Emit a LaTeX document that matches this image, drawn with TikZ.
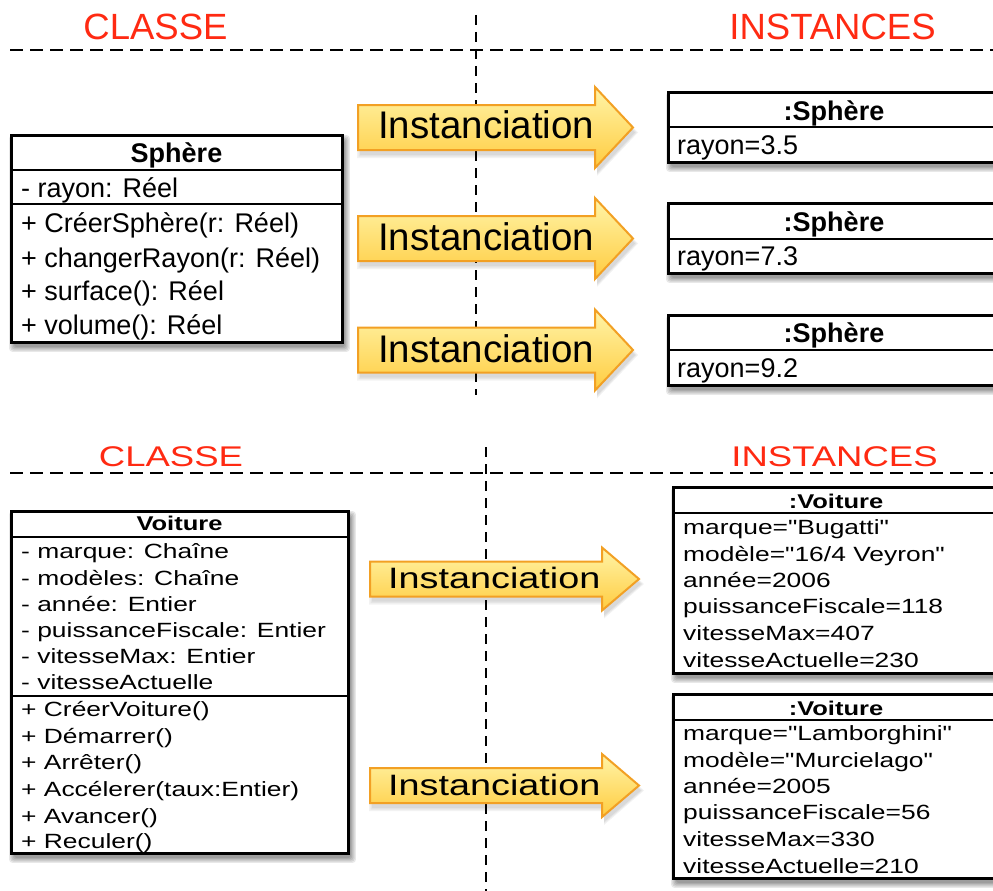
\documentclass[tikz,border=0pt]{standalone}
\usepackage{fontspec}
\setmainfont{Liberation Sans}[Ligatures=TeXOff]
\usepackage{graphicx}
\definecolor{headred}{HTML}{FF2A12}
\definecolor{arrtop}{HTML}{FFF4A8}
\definecolor{arrbot}{HTML}{FFCC40}
\definecolor{arrline}{HTML}{F2A024}
\newcommand\sq[1]{\scalebox{1}[0.78]{#1}}
\newcommand\softshadow[4]{%
  \foreach \s in {0,1.2,2.4,3.6,4.8}{\fill[black,opacity=0.09,rounded corners=3] (#1+3-\s,#2+5-\s) rectangle (#3+3+\s,#4+5+\s);}}
\newcommand\instarrow[6]{% x0, xb, xt, yc, hb, hh
  \foreach \s in {0,1.5,3}{\fill[black,opacity=0.05] (#1+2-\s,#4-#5+5-\s) -- (#2+2,#4-#5+5-\s) -- (#2+2,#4-#6+5-\s) -- (#3+2+\s,#4+5) -- (#2+2,#4+#6+5+\s) -- (#2+2,#4+#5+5+\s) -- (#1+2-\s,#4+#5+5+\s) -- cycle;}
  \draw[arrowbody] (#1,#4-#5) -- (#2,#4-#5) -- (#2,#4-#6) -- (#3,#4) -- (#2,#4+#6) -- (#2,#4+#5) -- (#1,#4+#5) -- cycle;}
\begin{document}
\begin{tikzpicture}[x=1pt,y=-1pt,
  hd/.style={text=headred, font=\fontsize{36.5}{40}\selectfont, inner sep=0, anchor=base},
  txt/.style={font=\fontsize{27}{30}\selectfont, inner sep=0, anchor=base west},
  ttl/.style={font=\bfseries\fontsize{27}{30}\selectfont, inner sep=0, anchor=base},
  btxt/.style={font=\fontsize{26.4}{30}\selectfont, inner sep=0, anchor=base west},
  bttl/.style={font=\bfseries\fontsize{25.5}{30}\selectfont, inner sep=0, anchor=base},
  itext/.style={font=\fontsize{38.5}{40}\selectfont, inner sep=0, anchor=base west},
  bitext/.style={font=\fontsize{37.8}{40}\selectfont, inner sep=0, anchor=base west},
  boxline/.style={draw=black, line width=3, fill=white},
  sepline/.style={line width=2.5},
  hdash/.style={line width=2, dash pattern=on 13 off 7},
  vdash/.style={line width=2, dash pattern=on 10 off 7},
  arrowbody/.style={draw=arrline, line width=2, top color=arrtop, bottom color=arrbot, line join=miter}
]
\useasboundingbox (0,0) rectangle (993,891);
\clip (0,0) rectangle (993,891);
\fill[white] (0,0) rectangle (993,891);

% ---------- TOP ----------
\node[hd] (c1) at (155.5,40) {CLASSE};
\node[hd] (i1) at (832.5,40) {INSTANCES};
\coordinate (h1a) at (10,50); \coordinate (h1b) at (995,50);
\coordinate (v1a) at (476,15); \coordinate (v1b) at (476,395);
\draw[hdash] (h1a) -- (h1b);
\draw[vdash] (v1a) -- (v1b);

% class Sphere
\softshadow{11}{135}{342}{342}
\draw[boxline] (11,135) rectangle (342,342);
\draw[sepline] (11,170) -- (342,170);
\draw[sepline] (11,204) -- (342,204);
\node[ttl] (sT) at (176.5,162) {Sphère};
\node[txt] (s1) at (21,197) {- rayon: Réel};
\node[txt] (s2) at (21,232) {+ CréerSphère(r: Réel)};
\node[txt] (s3) at (21,267) {+ changerRayon(r: Réel)};
\node[txt] (s4) at (21,300) {+ surface(): Réel};
\node[txt] (s5) at (21,334) {+ volume(): Réel};

% arrows top
\instarrow{358}{595}{633}{127.5}{22.5}{40.5}
\node[itext] (a1) at (378,138) {Instanciation};
\instarrow{358}{595}{633}{238.5}{22.5}{40.5}
\node[itext] (a2) at (378,250) {Instanciation};
\instarrow{358}{595}{633}{350}{22.5}{40.5}
\node[itext] (a3) at (378,362) {Instanciation};

% instances Sphere
\softshadow{668}{92}{1005}{162}
\draw[boxline] (668,92) rectangle (1005,162);
\draw[sepline] (668,127) -- (1005,127);
\node[ttl] (o1t) at (834,120) {:Sphère};
\node[txt] (o1a) at (677,154) {rayon=3.5};

\softshadow{668}{203}{1005}{273}
\draw[boxline] (668,203) rectangle (1005,273);
\draw[sepline] (668,239) -- (1005,239);
\node[ttl] (o2t) at (834,231) {:Sphère};
\node[txt] (o2a) at (677,265) {rayon=7.3};

\softshadow{668}{315}{1005}{385}
\draw[boxline] (668,315) rectangle (1005,385);
\draw[sepline] (668,350) -- (1005,350);
\node[ttl] (o3t) at (834,342) {:Sphère};
\node[txt] (o3a) at (677,377) {rayon=9.2};

% ---------- BOTTOM ----------
\node[hd] (c2) at (171,466) {\sq{CLASSE}};
\node[hd] (i2) at (834.5,466) {\sq{INSTANCES}};
\coordinate (h2a) at (10,473); \coordinate (h2b) at (995,473);
\coordinate (v2a) at (486,447); \coordinate (v2b) at (486,895);
\draw[hdash] (h2a) -- (h2b);
\draw[vdash] (v2a) -- (v2b);

% class Voiture
\softshadow{11}{511}{348}{853}
\draw[boxline] (11,511) rectangle (348,853);
\draw[line width=2] (11,537) -- (348,537);
\draw[line width=2] (11,696) -- (348,696);
\node[bttl] (vT) at (179.5,530) {\sq{Voiture}};
\node[btxt] (v1) at (21,558) {\sq{- marque: Chaîne}};
\node[btxt] (v2) at (21,585) {\sq{- modèles: Chaîne}};
\node[btxt] (v3) at (21,611) {\sq{- année: Entier}};
\node[btxt] (v4) at (21,637) {\sq{- puissanceFiscale: Entier}};
\node[btxt] (v5) at (21,663) {\sq{- vitesseMax: Entier}};
\node[btxt] (v6) at (21,689) {\sq{- vitesseActuelle}};
\node[btxt] (m1) at (21,716) {\sq{+ CréerVoiture()}};
\node[btxt] (m2) at (21,743) {\sq{+ Démarrer()}};
\node[btxt] (m3) at (21,769) {\sq{+ Arrêter()}};
\node[btxt] (m4) at (21,796) {\sq{+ Accélerer(taux:Entier)}};
\node[btxt] (m5) at (21,823) {\sq{+ Avancer()}};
\node[btxt] (m6) at (21,848) {\sq{+ Reculer()}};

% arrows bottom
\instarrow{370}{602}{639}{579}{17.5}{31.5}
\node[bitext] (b1) at (388,588) {\sq{Instanciation}};
\instarrow{370}{602}{639}{785.5}{17.5}{31.5}
\node[bitext] (b2) at (388,795) {\sq{Instanciation}};

% instances Voiture
\softshadow{673}{487}{1005}{673}
\draw[boxline] (673,487) rectangle (1005,673);
\draw[line width=2] (673,513) -- (1005,513);
\node[bttl] (p1t) at (836,508) {\sq{:Voiture}};
\node[btxt] (p11) at (683,534) {\sq{marque="Bugatti"}};
\node[btxt] (p12) at (683,561) {\sq{modèle="16/4 Veyron"}};
\node[btxt] (p13) at (683,587) {\sq{année=2006}};
\node[btxt] (p14) at (683,613) {\sq{puissanceFiscale=118}};
\node[btxt] (p15) at (683,640) {\sq{vitesseMax=407}};
\node[btxt] (p16) at (683,667) {\sq{vitesseActuelle=230}};

\softshadow{673}{694}{1005}{878}
\draw[boxline] (673,694) rectangle (1005,878);
\draw[line width=2] (673,720) -- (1005,720);
\node[bttl] (p2t) at (836,715) {\sq{:Voiture}};
\node[btxt] (p21) at (683,740) {\sq{marque="Lamborghini"}};
\node[btxt] (p22) at (683,767) {\sq{modèle="Murcielago"}};
\node[btxt] (p23) at (683,793) {\sq{année=2005}};
\node[btxt] (p24) at (683,819) {\sq{puissanceFiscale=56}};
\node[btxt] (p25) at (683,846) {\sq{vitesseMax=330}};
\node[btxt] (p26) at (683,873) {\sq{vitesseActuelle=210}};
\end{tikzpicture}
\end{document}
